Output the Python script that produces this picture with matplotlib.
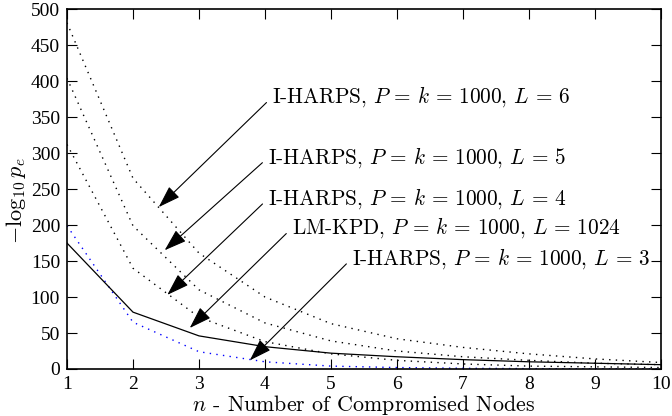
import matplotlib
matplotlib.use("Agg")
import matplotlib.pyplot as plt

# values
n = [1, 2, 3, 4, 5, 6, 7, 8, 9, 10]
harps_l6 = [481, 265, 161, 100, 63, 42, 30, 21, 14, 9]
harps_l5 = [404, 199, 110, 64, 39, 25, 17, 12, 8, 6]
harps_l4 = [312, 140, 72, 38, 21, 12, 7, 4, 3, 2]
harps_l3 = [199, 65, 24, 10, 4, 2, 1, 0.5, 0.3, 0.2]
lmkpd = [175, 79, 46, 31, 22, 17, 13, 10, 8, 6]

labels = [
    r"I-HARPS, $P\,=\,k\,=\,1000,\,L\,=\,6$",
    r"I-HARPS, $P\,=\,k\,=\,1000,\,L\,=\,5$",
    r"I-HARPS, $P\,=\,k\,=\,1000,\,L\,=\,4$",
    r"LM-KPD, $P\,=\,k\,=\,1000,\,L\,=\,1024$",
    r"I-HARPS, $P\,=\,k\,=\,1000,\,L\,=\,3$",
]
# (arrow tip, text anchor) in data coords
arrow_tips = [(2.39, 225), (2.48, 165), (2.52, 103), (2.86, 57), (3.77, 12)]
text_pos = [(4.11, 378), (4.05, 294), (4.05, 237), (4.41, 196), (5.32, 154)]

plt.rcParams["mathtext.fontset"] = "cm"
plt.rcParams["axes.unicode_minus"] = False

fig = plt.figure(figsize=(6.72, 4.16), dpi=100)
ax = fig.add_axes([0.0997, 0.113, 0.8839, 0.865])

dots = (0, (1, 3.8))
ax.plot(n, harps_l6, linestyle=dots, color="black", lw=1.0)
ax.plot(n, harps_l5, linestyle=dots, color="black", lw=1.0)
ax.plot(n, harps_l4, linestyle=dots, color="black", lw=1.0)
ax.plot(n, harps_l3, linestyle=dots, color="blue", lw=1.0)
ax.plot(n, lmkpd, "-", color="black", lw=0.9)

for lab, tip, pos in zip(labels, arrow_tips, text_pos):
    ax.annotate(lab, xy=tip, xytext=pos, ha="left", va="center",
                fontsize=15.3, family="cmr10",
                arrowprops=dict(arrowstyle="-|>,head_length=0.9,head_width=0.3",
                                color="black", lw=0.8, relpos=(0, 0.5),
                                shrinkA=3, shrinkB=0))

ax.set_xlim(1, 10)
ax.set_ylim(0, 500)
ax.set_xticks(n)
ax.set_yticks(range(0, 501, 50))
ax.tick_params(direction="in", top=True, right=True, length=7, width=0.8,
               labelsize=14, pad=5)
for lbl in ax.get_xticklabels() + ax.get_yticklabels():
    lbl.set_family("Liberation Serif")
for s in ax.spines.values():
    s.set_linewidth(1.2)

ax.set_xlabel(r"$n$ - Number of Compromised Nodes", fontsize=15.8,
              family="cmr10", labelpad=0)
ax.set_ylabel(r"$-\log_{10}p_e$", fontsize=16)
ax.yaxis.set_label_coords(-0.066, 0.467)

fig.savefig("out.png", dpi=100)
